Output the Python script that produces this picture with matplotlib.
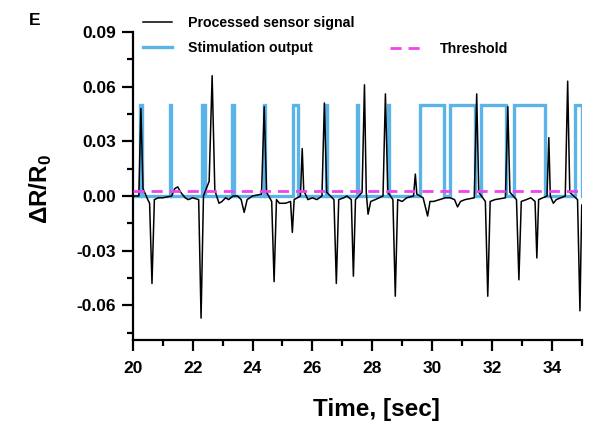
import numpy as np
import matplotlib
matplotlib.use("Agg")
import matplotlib.pyplot as plt
from matplotlib.ticker import MultipleLocator
from matplotlib.lines import Line2D

plt.rcParams['font.family'] = ['Liberation Sans', 'DejaVu Sans']
plt.rcParams['font.weight'] = 'bold'
plt.rcParams['axes.unicode_minus'] = False
plt.rcParams['mathtext.fontset'] = 'custom'
plt.rcParams['mathtext.bf'] = 'Liberation Sans:bold'
plt.rcParams['mathtext.rm'] = 'Liberation Sans:bold'

# processed sensor signal (time [s], dR/R0)
sig_t = [20.00, 20.20, 20.27, 20.34, 20.50, 20.56, 20.64, 20.72, 20.85, 21.00,
         21.30, 21.40, 21.50, 21.60, 21.75, 21.85, 22.00, 22.20, 22.28, 22.36,
         22.55, 22.65, 22.74, 22.88, 22.98, 23.10, 23.20, 23.35, 23.50, 23.62,
         23.72, 23.82, 24.00, 24.30, 24.39, 24.47, 24.64, 24.72, 24.80, 24.90,
         25.10, 25.27, 25.33, 25.39, 25.60, 25.66, 25.71, 25.85, 26.00, 26.15,
         26.32, 26.40, 26.48, 26.72, 26.80, 26.88, 27.05, 27.15, 27.30, 27.37,
         27.44, 27.66, 27.74, 27.80, 27.86, 27.95, 28.10, 28.36, 28.44, 28.52,
         28.69, 28.77, 28.85, 29.00, 29.15, 29.38, 29.44, 29.49, 29.70, 29.85,
         29.93, 30.05, 30.25, 30.45, 30.60, 30.75, 30.85, 30.95, 31.10, 31.41,
         31.49, 31.56, 31.78, 31.86, 31.94, 32.10, 32.45, 32.53, 32.60, 32.82,
         32.90, 32.98, 33.15, 33.30, 33.44, 33.50, 33.56, 33.84, 33.90, 33.95,
         34.05, 34.15, 34.45, 34.53, 34.60, 34.86, 34.94, 35.00]
sig_v = [0.000, 0.000, 0.048, 0.004, -0.002, -0.004, -0.048, -0.002, -0.001, -0.001,
         0.000, 0.004, 0.005, 0.002, -0.001, -0.002, -0.001, -0.002, -0.067, 0.000,
         0.008, 0.066, 0.003, -0.004, -0.003, -0.001, -0.002, 0.000, 0.000, -0.002,
         -0.009, -0.002, 0.000, 0.001, 0.049, 0.002, -0.003, -0.047, -0.002, -0.004,
         -0.004, -0.003, -0.020, -0.002, 0.000, 0.026, 0.003, -0.002, -0.001, -0.002,
         0.000, 0.051, 0.002, -0.002, -0.048, -0.002, -0.001, 0.000, -0.002, -0.044,
         -0.002, 0.002, 0.061, 0.002, -0.010, -0.003, -0.002, 0.000, 0.056, 0.002,
         -0.002, -0.055, -0.002, -0.003, -0.001, 0.000, 0.012, 0.001, -0.001, -0.011,
         -0.003, -0.003, -0.002, -0.001, -0.001, -0.002, -0.006, -0.003, -0.002, -0.001,
         0.056, 0.002, -0.003, -0.055, -0.003, -0.002, -0.001, 0.049, 0.002, -0.002,
         -0.046, -0.003, -0.002, -0.001, -0.003, -0.034, -0.002, 0.000, 0.032, 0.000,
         -0.004, -0.002, 0.000, 0.063, 0.002, -0.002, -0.063, -0.005]

# stimulation pulses (on, off) in seconds, amplitude 0.05
pulse_on = [20.25, 21.25, 22.30, 23.33, 24.37, 25.36, 26.44, 27.48, 28.51,
            29.58, 30.61, 31.65, 32.72, 34.77]
pulse_off = [20.29, 21.29, 22.42, 23.37, 24.41, 25.53, 26.48, 27.52, 28.56,
             30.39, 31.42, 32.46, 33.77, 35.00]
pulse_amp = 0.05
threshold = 0.0028

stim_t = [20.0]
stim_v = [0.0]
for a, b in zip(pulse_on, pulse_off):
    stim_t += [a, a, b, b]
    stim_v += [0.0, pulse_amp, pulse_amp, 0.0]
stim_t.append(35.0)
stim_v.append(0.0)

fig = plt.figure(figsize=(5.93, 4.26), dpi=100)
ax = fig.add_axes([0.224, 0.202, 0.757, 0.723])

blue = '#5AB4E8'
pink = '#EE44EE'
ax.plot(stim_t, stim_v, color=blue, lw=2.4, zorder=2, solid_joinstyle='miter')
ax.plot(sig_t, sig_v, color='black', lw=1.1, zorder=3)
ax.axhline(threshold, color=pink, lw=2.0, dashes=(4, 2.5), zorder=4)

ax.set_xlim(20, 35)
ax.set_ylim(-0.079, 0.09)
ax.xaxis.set_major_locator(MultipleLocator(2))
ax.xaxis.set_minor_locator(MultipleLocator(1))
ax.yaxis.set_major_locator(MultipleLocator(0.03))
ax.yaxis.set_minor_locator(MultipleLocator(0.015))
ax.yaxis.set_major_formatter(plt.FormatStrFormatter('%.2f'))

for s in ['top', 'right']:
    ax.spines[s].set_visible(False)
for s in ['left', 'bottom']:
    ax.spines[s].set_linewidth(1.6)
ax.tick_params(which='major', direction='out', length=8, width=1.6,
               labelsize=12.5, pad=4)
ax.tick_params(which='minor', direction='out', length=4, width=1.6)
ax.tick_params(axis='x', pad=7)
for lab in ax.get_xticklabels() + ax.get_yticklabels():
    lab.set_fontweight('bold')

ax.set_xlabel('Time, [sec]', fontsize=17.5, fontweight='bold', va='center')
ax.xaxis.set_label_coords(0.543, -0.227)
ax.set_ylabel('ΔR/R$_\\mathbf{0}$', fontsize=17.5, fontweight='bold', va='center')
ax.yaxis.set_label_coords(-0.205, 0.49)

fig.text(0.048, 0.952, 'E', fontsize=12.5, fontweight='bold', va='center')

h1 = [Line2D([], [], color='black', lw=1.1), Line2D([], [], color=blue, lw=2.4)]
leg1 = ax.legend(h1, ['Processed sensor signal', 'Stimulation output'],
                 loc='upper left', bbox_to_anchor=(0.225, 0.986),
                 bbox_transform=fig.transFigure, frameon=False,
                 prop={'size': 10.2, 'weight': 'bold'}, handlelength=2.0,
                 handletextpad=1.15, labelspacing=0.8, borderaxespad=0.3)
ax.add_artist(leg1)
h2 = [Line2D([], [], color=pink, lw=2.0, dashes=(4, 2.5))]
ax.legend(h2, ['Threshold'], loc='upper left', bbox_to_anchor=(0.648, 0.914),
          bbox_transform=fig.transFigure, frameon=False,
          prop={'size': 10.2, 'weight': 'bold'}, handlelength=2.45,
          handletextpad=1.1, borderaxespad=0.0)

fig.savefig('out.png', dpi=100)
